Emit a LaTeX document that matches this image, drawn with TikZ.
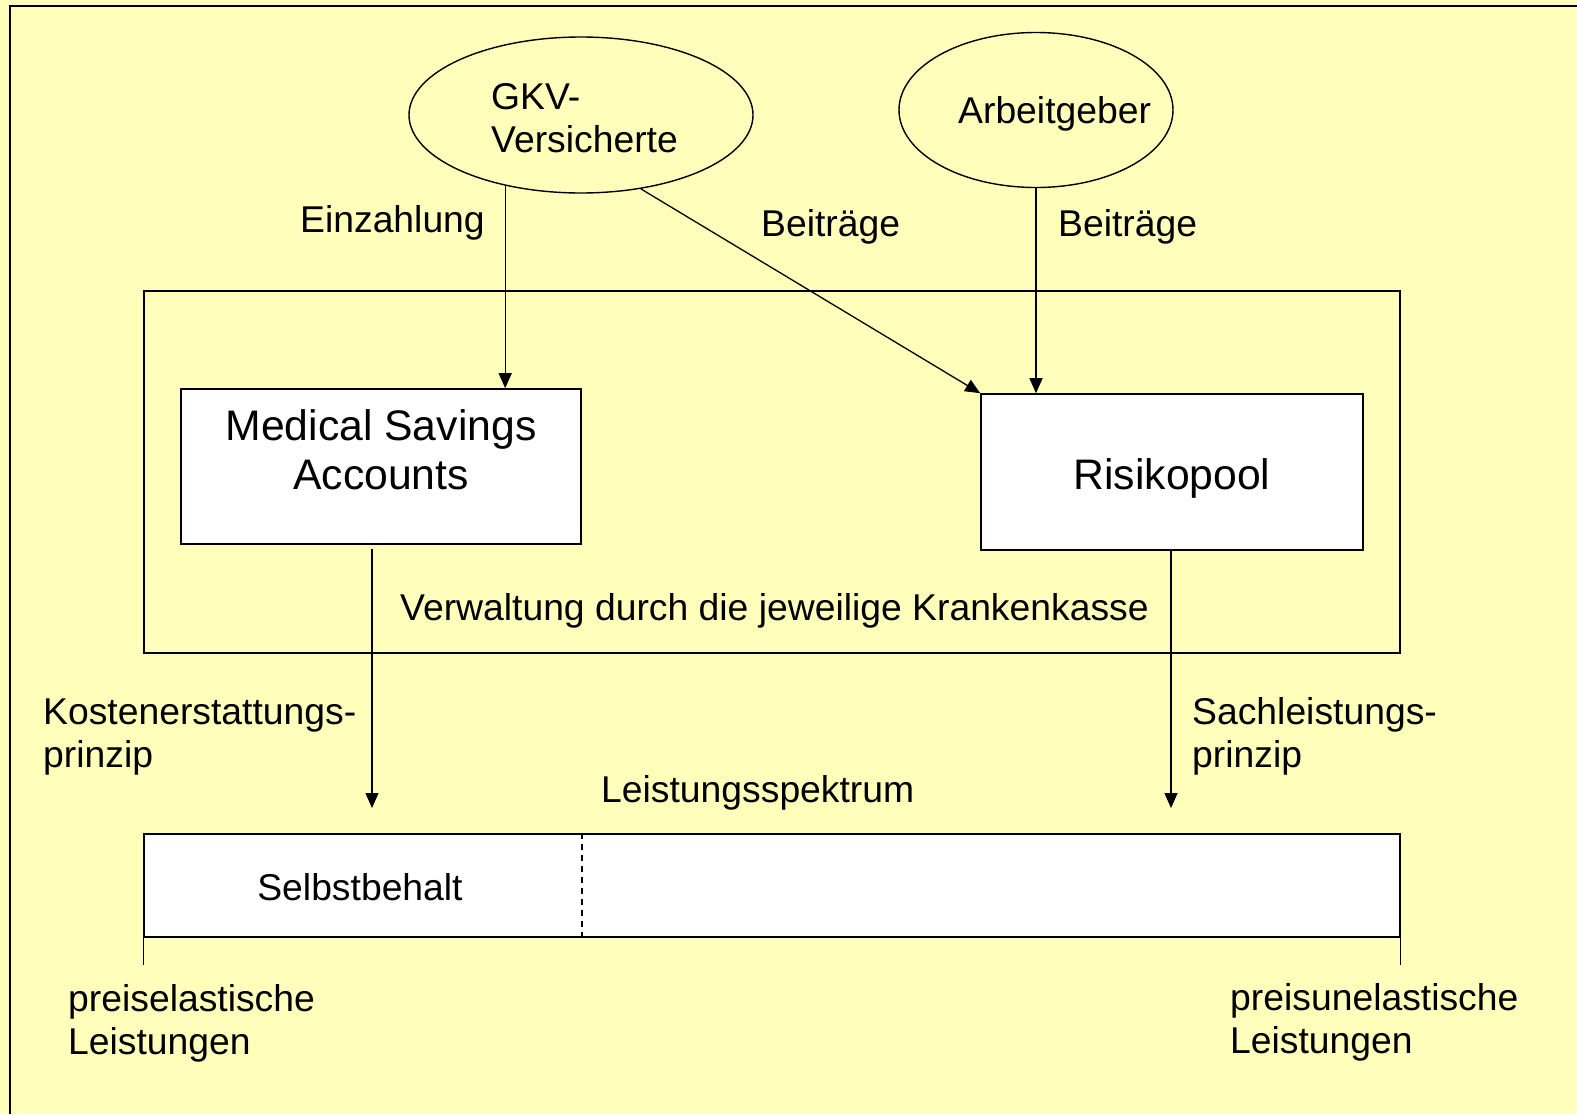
\documentclass[tikz,border=0pt]{standalone}
\usepackage{fontspec}
\setmainfont{Liberation Sans}
\usetikzlibrary{arrows.meta,shapes.geometric}
\definecolor{bgyellow}{RGB}{255,255,187}
\tikzset{
  lbl/.style={inner sep=0pt, anchor=base west, font=\fontsize{37.3}{44}\selectfont},
  lblc/.style={inner sep=0pt, anchor=base, font=\fontsize{37.3}{44}\selectfont},
  boxtxt/.style={inner sep=0pt, anchor=base, font=\fontsize{42.7}{48}\selectfont},
  ell/.style={draw, ellipse, line width=1.4pt, fill=bgyellow, inner sep=0pt},
  wbox/.style={draw, rectangle, line width=1.6pt, fill=white, inner sep=0pt},
  frame/.style={draw, rectangle, line width=1.6pt, inner sep=0pt},
  arr/.style={line width=1.3pt, -{Triangle[length=15pt,width=13pt]}},
}
\begin{document}
\begin{tikzpicture}[x=1pt,y=-1pt]
\useasboundingbox (0,0) rectangle (1577,1114);
\fill[bgyellow] (0,0) rectangle (1577,1114);
\coordinate (fa) at (10,1114);
\coordinate (fb) at (10,6);
\coordinate (fc) at (1577,6);
\draw[line width=2.5pt] (fa) -- (fb) -- (fc);

% ellipses
\node[ell, minimum width=344pt, minimum height=156pt] (gkv) at (581,115) {};
\node[lbl] (gkvt1) at (491,109) {GKV-};
\node[lbl] (gkvt2) at (491,152) {Versicherte};
\node[ell, minimum width=274pt, minimum height=155pt] (arb) at (1036,110) {};
\node[lbl] (arbt) at (958,123) {Arbeitgeber};

% administration frame
\node[frame, minimum width=1256pt, minimum height=362pt] (verw) at (772,472) {};
\node[lbl] (verwt) at (400,620) {Verwaltung durch die jeweilige Krankenkasse};

% boxes
\node[wbox, minimum width=400pt, minimum height=155pt] (msa) at (381,466.5) {};
\node[boxtxt] (msat1) at (381,440) {Medical Savings};
\node[boxtxt] (msat2) at (381,489) {Accounts};
\node[wbox, minimum width=382pt, minimum height=156pt] (risk) at (1172,472) {};
\node[boxtxt] (riskt) at (1172,489) {Risikopool};

% arrows from top
\draw[arr] (gkv.223) -- (gkv.223 |- msa.north);
\draw[arr] (gkv.-51) -- (risk.north west);
\draw[arr] (arb.south) -- (arb.south |- risk.north);
\node[lbl] (einz) at (300,232) {Einzahlung};
\node[lbl] (beit1) at (761,236) {Beiträge};
\node[lbl] (beit2) at (1058,236) {Beiträge};

% arrows to bottom
\coordinate (msaEnd) at (372,808);
\coordinate (riskEnd) at (1171,808);
\draw[arr] (msaEnd |- 0,549) -- (msaEnd);
\draw[arr] (risk.south -| riskEnd) -- (riskEnd);
\node[lbl] (kost1) at (43,724) {Kostenerstattungs-};
\node[lbl] (kost2) at (43,767) {prinzip};
\node[lbl] (sach1) at (1192,724) {Sachleistungs-};
\node[lbl] (sach2) at (1192,767) {prinzip};
\node[lbl] (spek) at (601,802) {Leistungsspektrum};

% bar
\node[wbox, minimum width=1256pt, minimum height=103pt] (bar) at (772,885.5) {};
\draw[line width=1.5pt, dash pattern=on 6pt off 5pt] (bar.north -| msa.east) -- (bar.south -| msa.east);
\node[lblc] (selbst) at (360,900) {Selbstbehalt};
\draw[line width=1.3pt] (bar.south west) -- ++(0,27) coordinate (tl);
\draw[line width=1.3pt] (bar.south east) -- ++(0,27) coordinate (tr);
\node[lbl] (pe1) at (68,1011) {preiselastische};
\node[lbl] (pe2) at (68,1054) {Leistungen};
\node[lbl] (pu1) at (1230,1010) {preisunelastische};
\node[lbl] (pu2) at (1230,1053) {Leistungen};
\end{tikzpicture}
\end{document}
